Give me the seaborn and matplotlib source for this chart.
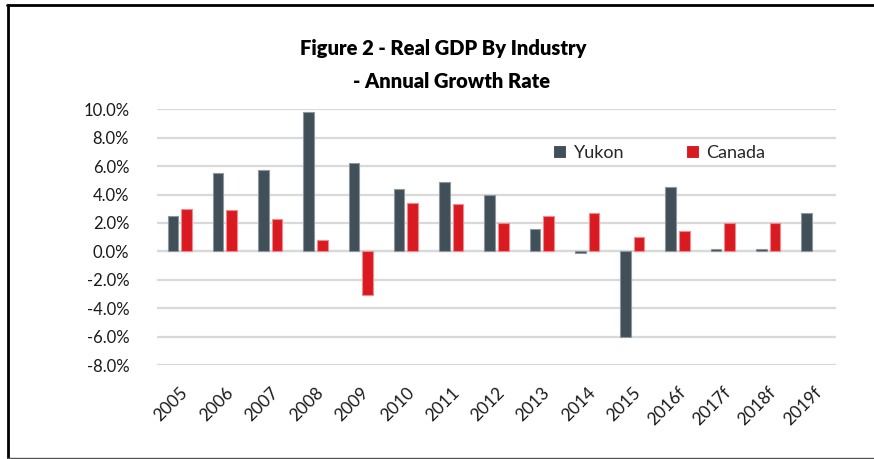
import pandas as pd
import numpy as np
import matplotlib
matplotlib.use('Agg')
import matplotlib.pyplot as plt
from matplotlib.lines import Line2D
from matplotlib.ticker import FuncFormatter
import seaborn as sns

# Values (annual growth, %)
years = ['2005', '2006', '2007', '2008', '2009', '2010', '2011', '2012',
         '2013', '2014', '2015', '2016f', '2017f', '2018f', '2019f']
yukon = [2.5, 5.5, 5.7, 9.8, 6.2, 4.4, 4.9, 4.0, 1.6, -0.1, -6.0, 4.5, 0.2, 0.2, 2.7]
canada = [3.0, 2.9, 2.3, 0.8, -3.1, 3.4, 3.3, 2.0, 2.5, 2.7, 1.0, 1.4, 2.0, 2.0, np.nan]
series = ['Yukon', 'Canada']
colors = ['#404f58', '#d91a21']
y_ticks = [-8, -6, -4, -2, 0, 2, 4, 6, 8, 10]

df = pd.DataFrame({
    'year': years * 2,
    'region': ['Yukon'] * len(years) + ['Canada'] * len(years),
    'growth': yukon + canada,
})

sns.set_style('white')
plt.rcParams['font.family'] = ['Lato', 'DejaVu Sans']

fig = plt.figure(figsize=(8.74, 4.59), dpi=100)
ax = fig.add_axes([157 / 874, 1 - 365 / 459, 679 / 874, 255.7 / 459])

sns.barplot(data=df, x='year', y='growth', hue='region', hue_order=series,
            palette=colors, saturation=1, width=0.6, gap=0.22, errorbar=None,
            linewidth=0.8, ax=ax)

# light outline on the bars like the original
for cont, ec in zip(ax.containers, ['#8d979d', '#f08a8e']):
    for p in cont:
        p.set_edgecolor(ec)

ax.set_ylim(-8, 10)
ax.set_xlim(-0.5, len(years) - 0.5)
ax.set_yticks(y_ticks)
ax.yaxis.set_major_formatter(FuncFormatter(lambda v, _: f'{v:.1f}%'))
ax.grid(axis='y', color='#d9d9d9', linewidth=1.6)
ax.set_axisbelow(True)
ax.axhline(0, color='#d9d9d9', linewidth=1.6, zorder=0.5)
sns.despine(ax=ax, left=True, bottom=True)
ax.tick_params(axis='both', length=0, colors='#1a1a1a')
ax.tick_params(axis='y', labelsize=12, pad=20)
ax.tick_params(axis='x', labelsize=12.5, pad=14)
ax.set_xlabel('')
ax.set_ylabel('')
plt.setp(ax.get_xticklabels(), rotation=45, ha='right', rotation_mode='anchor')

ax.legend(loc='center left', bbox_to_anchor=(0.583, 0.829), ncol=2,
          frameon=False, fontsize=13, handlelength=0.75, handleheight=0.75,
          handletextpad=0.4, columnspacing=3.4, borderpad=0, borderaxespad=0)

fig.text(0.507, 1 - 48 / 459, 'Figure 2 - Real GDP By Industry', ha='center',
         va='center', fontsize=14.5, fontweight='heavy', color='black')
fig.text(0.517, 1 - 82 / 459, '- Annual Growth Rate', ha='center',
         va='center', fontsize=14.5, fontweight='heavy', color='black')

# frame around the chart
fig.add_artist(Line2D([7.5 / 874, 7.5 / 874], [0, 1 - 4.5 / 459], color='black', linewidth=2))
fig.add_artist(Line2D([6.5 / 874, 1], [1 - 5 / 459, 1 - 5 / 459], color='black', linewidth=2))
fig.add_artist(Line2D([6.5 / 874, 1], [1.5 / 459, 1.5 / 459], color='#555555', linewidth=1))

fig.savefig('out.png', dpi=100)
